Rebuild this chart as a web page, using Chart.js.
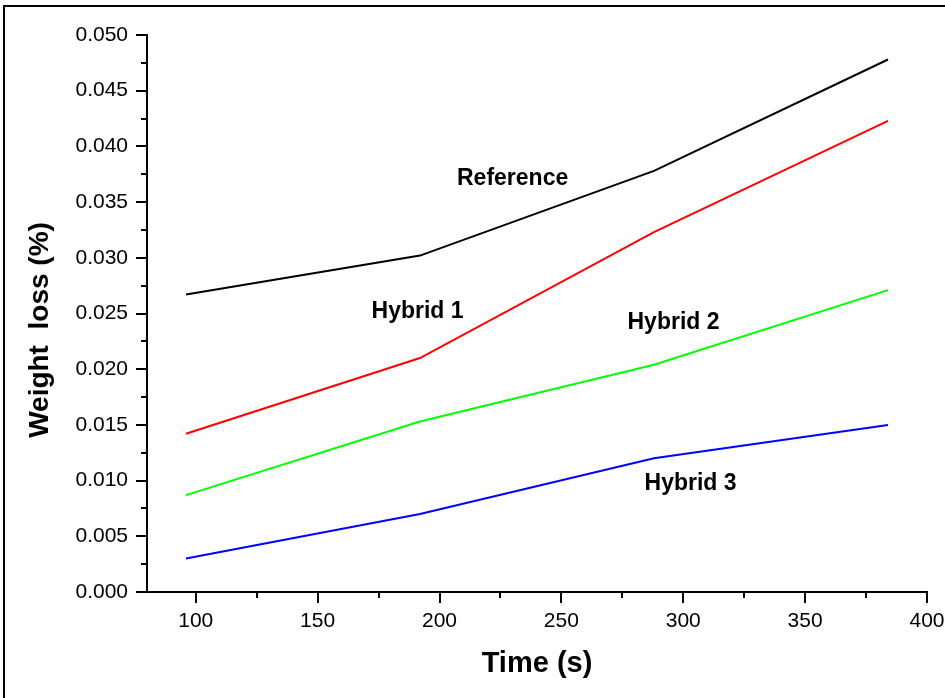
<!DOCTYPE html>
<html>
<head>
<meta charset="utf-8">
<script src="https://cdn.jsdelivr.net/npm/chart.js@4/dist/chart.umd.min.js"></script>
<style>
  html, body { margin: 0; padding: 0; background: #fff; }
  #wrap { width: 945px; height: 698px; position: relative; }
</style>
</head>
<body>
<div id="wrap"><canvas id="c" width="945" height="698"></canvas></div>
<script>
// ---- data ----
const timeValues = [96, 192, 288, 384];
const referenceValues = [0.0267, 0.0302, 0.0378, 0.0478];
const hybrid1Values = [0.0142, 0.0210, 0.0323, 0.0423];
const hybrid2Values = [0.0087, 0.0153, 0.0204, 0.0271];
const hybrid3Values = [0.0030, 0.0070, 0.0120, 0.0150];
const seriesNames = ['Reference', 'Hybrid 1', 'Hybrid 2', 'Hybrid 3'];
const xTickValues = [100, 150, 200, 250, 300, 350, 400];
const yTickValues = [0, 0.005, 0.010, 0.015, 0.020, 0.025, 0.030, 0.035, 0.040, 0.045, 0.050];
const xAxisTitle = 'Time (s)';
const yAxisTitle = 'Weight  loss (%)';
// in-chart series labels, anchored in data space
const labelTimes = [230, 191, 296, 303];
const labelValues = [0.0371, 0.0252, 0.0242, 0.0097];

const seriesValues = [referenceValues, hybrid1Values, hybrid2Values, hybrid3Values];
const seriesColors = ['#000000', '#ff0000', '#00ff00', '#0000ff'];

const datasets = seriesValues.map((vals, i) => ({
  label: seriesNames[i],
  data: vals.map((v, j) => ({ x: timeValues[j], y: v })),
  borderColor: seriesColors[i],
  backgroundColor: seriesColors[i],
  borderWidth: 2,
  pointRadius: 0,
  tension: 0,
  fill: false
}));

function midpoints(arr) {
  const out = [];
  for (let i = 0; i < arr.length - 1; i++) out.push((arr[i] + arr[i + 1]) / 2);
  return out;
}

const decorPlugin = {
  id: 'decor',
  afterDraw(chart) {
    const ctx = chart.ctx;
    const xs = chart.scales.x, ys = chart.scales.y;
    const area = chart.chartArea;
    ctx.save();
    // outer frame (left and top)
    ctx.fillStyle = '#000';
    ctx.fillRect(3, 5, 950, 2);
    ctx.fillRect(3, 5, 2, 700);
    // minor ticks
    ctx.strokeStyle = '#000';
    ctx.lineWidth = 2;
    midpoints(xTickValues).forEach(v => {
      const px = Math.round(xs.getPixelForValue(v));
      ctx.beginPath(); ctx.moveTo(px, area.bottom); ctx.lineTo(px, area.bottom + 6); ctx.stroke();
    });
    midpoints(yTickValues).forEach(v => {
      const py = Math.round(ys.getPixelForValue(v));
      ctx.beginPath(); ctx.moveTo(area.left, py); ctx.lineTo(area.left - 6, py); ctx.stroke();
    });
    // series labels
    ctx.fillStyle = '#000';
    ctx.font = 'bold 23px "Liberation Sans", Arial, sans-serif';
    ctx.textAlign = 'center';
    ctx.textBaseline = 'middle';
    seriesNames.forEach((name, i) => {
      ctx.fillText(name, xs.getPixelForValue(labelTimes[i]), ys.getPixelForValue(labelValues[i]));
    });
    // axis titles
    ctx.font = 'bold 29px "Liberation Sans", Arial, sans-serif';
    ctx.fillText(xAxisTitle, (area.left + area.right) / 2, 664);
    ctx.translate(40, 330);
    ctx.rotate(-Math.PI / 2);
    ctx.font = 'bold 28px "Liberation Sans", Arial, sans-serif';
    ctx.fillText(yAxisTitle, 0, 0);
    ctx.restore();
  }
};

const tickFont = { family: '"Liberation Sans", Arial, sans-serif', size: 21 };

new Chart(document.getElementById('c'), {
  type: 'line',
  data: { datasets },
  options: {
    responsive: false,
    devicePixelRatio: 1,
    animation: false,
    layout: { padding: { left: 0, top: 35, right: 18, bottom: 0 } },
    plugins: { legend: { display: false }, tooltip: { enabled: false } },
    scales: {
      x: {
        type: 'linear',
        min: 80,
        max: 400,
        afterBuildTicks(scale) { scale.ticks = xTickValues.map(v => ({ value: v })); },
        afterFit(scale) { scale.height = 106; scale.paddingLeft = 0; scale.paddingRight = 0; },
        grid: { drawOnChartArea: false, drawTicks: true, tickLength: 11, lineWidth: 2, color: '#000' },
        border: { display: true, color: '#000', width: 2 },
        ticks: { color: '#000', font: tickFont, padding: 6, maxRotation: 0, autoSkip: false,
                 callback: v => String(v) }
      },
      y: {
        type: 'linear',
        min: 0,
        max: 0.05,
        afterBuildTicks(scale) { scale.ticks = yTickValues.map(v => ({ value: v })); },
        afterFit(scale) { scale.width = 147; scale.paddingTop = 0; scale.paddingBottom = 0; },
        grid: { drawOnChartArea: false, drawTicks: true, tickLength: 11, lineWidth: 2, color: '#000' },
        border: { display: true, color: '#000', width: 2 },
        ticks: { color: '#000', font: tickFont, padding: 8, autoSkip: false,
                 callback: v => Number(v).toFixed(3) }
      }
    }
  },
  plugins: [decorPlugin]
});
</script>
</body>
</html>
